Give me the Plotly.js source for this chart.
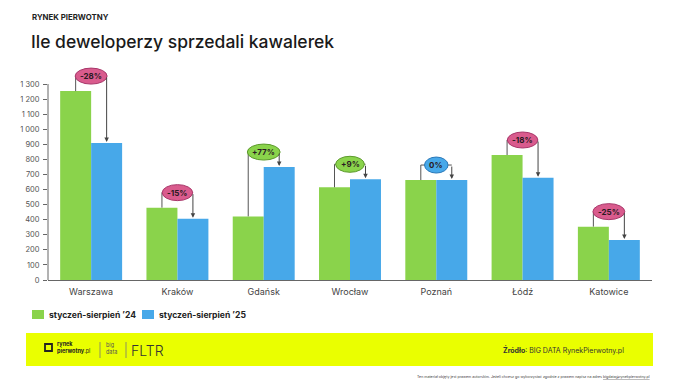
<!DOCTYPE html>
<html><head><meta charset="utf-8">
<script src="https://cdn.plot.ly/plotly-3.0.1.min.js"></script>
<style>html,body{margin:0;padding:0;background:#fff}#chart{width:680px;height:383px}</style>
</head><body><div id="chart"></div>
<script>
const cities = ['Warszawa','Kraków','Gdańsk','Wrocław','Poznań','Łódź','Katowice'];
const sales2024 = [1253,480,422,615,663,829,354];
const sales2025 = [908,407,749,668,663,678,265];
const changeLabels = ['-28%','-15%','+77%','+9%','0%','-18%','-25%'];
const yTickVals = [0,100,200,300,400,500,600,700,800,900,1000,1100,1200,1300];
const yTickText = ['0','100','200','300','400','500','600','700','800','900','1 000','1 100','1 200','1 300'];
const seriesNames = ['styczeń-sierpień ’24','styczeń-sierpień ’25'];

const W=680,H=383, L=48, R=28, T=61, B=103;
const PW=W-L-R, PH=H-T-B;
const YTOP=1300;
const YMAX=YTOP*PH/196;   // so that 1300 sits 196px above the baseline
const FONT='Inter, "Open Sans", sans-serif';
const GREEN='#8ad34b', BLUE='#47a8e9';
const BARGAP=0.282;
const off=(1-BARGAP)/4;
const px=x=>(x-L)/PW, py=y=>(H-B-y)/PH;
const idx=cities.map((c,i)=>i);

const traces=[
 {type:'bar',x:idx,y:sales2024,name:seriesNames[0],marker:{color:GREEN},hoverinfo:'skip'},
 {type:'bar',x:idx,y:sales2025,name:seriesNames[1],marker:{color:BLUE},hoverinfo:'skip'}
];

const shapes=[], annotations=[];
const cv=document.createElement('canvas').getContext('2d');
cv.font='bold 8px '+FONT;
const unitPerPx=YMAX/PH;
// y axis line up to the 1300 tick
shapes.push({type:'line',xref:'paper',yref:'paper',x0:0,x1:0,y0:0,y1:py(84),line:{color:'#666',width:1}});
idx.forEach(i=>{
  const a=sales2024[i], b=sales2025[i];
  const pillY=Math.max(a,b)+15*unitPerPx;
  const lab=changeLabels[i];
  const neg=lab.startsWith('-'), pos=lab.startsWith('+');
  const fill=neg?'#d95b8d':(pos?'#8ad34b':'#47a8e9');
  const edge=neg?'#a8376a':(pos?'#5c9a2b':'#2a78b8');
  const tw=cv.measureText(lab).width;
  const w=Math.max(tw+10,18), h=16;
  shapes.push({type:'line',xref:'x',yref:'y',x0:i-off,x1:i-off,y0:a,y1:pillY,line:{color:'#555',width:1}});
  shapes.push({type:'line',xref:'x',yref:'y',x0:i-off,x1:i+off,y0:pillY,y1:pillY,line:{color:'#555',width:1}});
  shapes.push({type:'circle',xref:'x',yref:'y',xsizemode:'pixel',ysizemode:'pixel',xanchor:i,yanchor:pillY,
    x0:-w/2,x1:w/2,y0:-h/2,y1:h/2,fillcolor:fill,line:{color:edge,width:1},layer:'above'});
  annotations.push({xref:'x',yref:'y',x:i+off,y:b,ax:i+off,ay:pillY,axref:'x',ayref:'y',text:'',showarrow:true,
    arrowhead:2,arrowsize:0.9,arrowwidth:1,arrowcolor:'#444',standoff:1});
  annotations.push({xref:'x',yref:'y',x:i,y:pillY,text:'<b>'+lab+'</b>',showarrow:false,
    font:{family:FONT,size:8,color:'#2a1a22'},xanchor:'center',yanchor:'middle'});
});

function txt(x,y,text,size,opts){
  annotations.push(Object.assign({xref:'paper',yref:'paper',x:px(x),y:py(y),text:text,showarrow:false,
    xanchor:'left',yanchor:'middle',font:{family:FONT,size:size,color:'#222'}},opts||{}));
}
function rect(x0,y0,x1,y1,o){
  shapes.push(Object.assign({type:'rect',xref:'paper',yref:'paper',x0:px(x0),x1:px(x1),y0:py(y1),y1:py(y0),line:{width:0}},o));
}
function vline(x,y0,y1,c){
  shapes.push({type:'line',xref:'paper',yref:'paper',x0:px(x),x1:px(x),y0:py(y0),y1:py(y1),line:{color:c,width:0.8}});
}
// header
txt(30,17,'<b>RYNEK PIERWOTNY</b>',7.8);
txt(29,42,'Ile deweloperzy sprzedali kawalerek',17.5,{font:{family:FONT,size:17.5,color:'#1a1a1a',weight:500}});
// legend
rect(32,310,44,319,{fillcolor:GREEN});
txt(47,315,'<b>'+seriesNames[0]+'</b>',8.6);
rect(142,310,154,319,{fillcolor:BLUE});
txt(157,315,'<b>'+seriesNames[1]+'</b>',8.6);
// footer
rect(26,333,653,366,{fillcolor:'#eaff00',layer:'below'});
rect(45,344,52,351,{fillcolor:'rgba(0,0,0,0)',line:{color:'#222',width:1.8}});
txt(55,348,'<b>rynek</b><br><b>pierwotny</b>.pl',5.5,{align:'left'});
vline(100,342,358,'#777');
txt(104,348,'big<br>data',5.5,{align:'left',font:{family:FONT,size:5.5,color:'#555'}});
vline(126,342,358,'#777');
txt(129,350.5,'FLTR',14,{font:{family:FONT,size:14,color:'#333',weight:300}});
txt(626,350,'<b>Źródło</b>: BIG DATA RynekPierwotny.pl',7,{xanchor:'right',font:{family:FONT,size:7,color:'#333'}});
txt(652,376.5,'Ten materiał objęty jest prawem autorskim. Jeżeli chcesz go wykorzystać zgodnie z prawem napisz na adres <u>bigdata@rynekpierwotny.pl</u>',3.6,{xanchor:'right',font:{family:FONT,size:3.6,color:'#444'}});

const layout={
  width:W,height:H,margin:{l:L,r:R,t:T,b:B,pad:0},
  paper_bgcolor:'#fff',plot_bgcolor:'#fff',
  barmode:'group',bargap:BARGAP,bargroupgap:0,showlegend:false,
  font:{family:FONT},
  xaxis:{range:[-0.5,cities.length-0.5],tickvals:idx,ticktext:cities,showgrid:false,zeroline:false,
    showline:true,linecolor:'#666',linewidth:1,ticks:'',tickfont:{family:FONT,size:9,color:'#444'},ticklabelstandoff:3,fixedrange:true},
  yaxis:{range:[0,YMAX],tickvals:yTickVals,ticktext:yTickText,showgrid:false,zeroline:false,
    showline:false,ticks:'outside',ticklen:4,tickcolor:'#666',
    tickfont:{family:FONT,size:7.5,color:'#555'},ticklabelstandoff:2,fixedrange:true},
  shapes:shapes,annotations:annotations
};
Plotly.newPlot('chart',traces,layout,{displayModeBar:false,staticPlot:true});
</script></body></html>
